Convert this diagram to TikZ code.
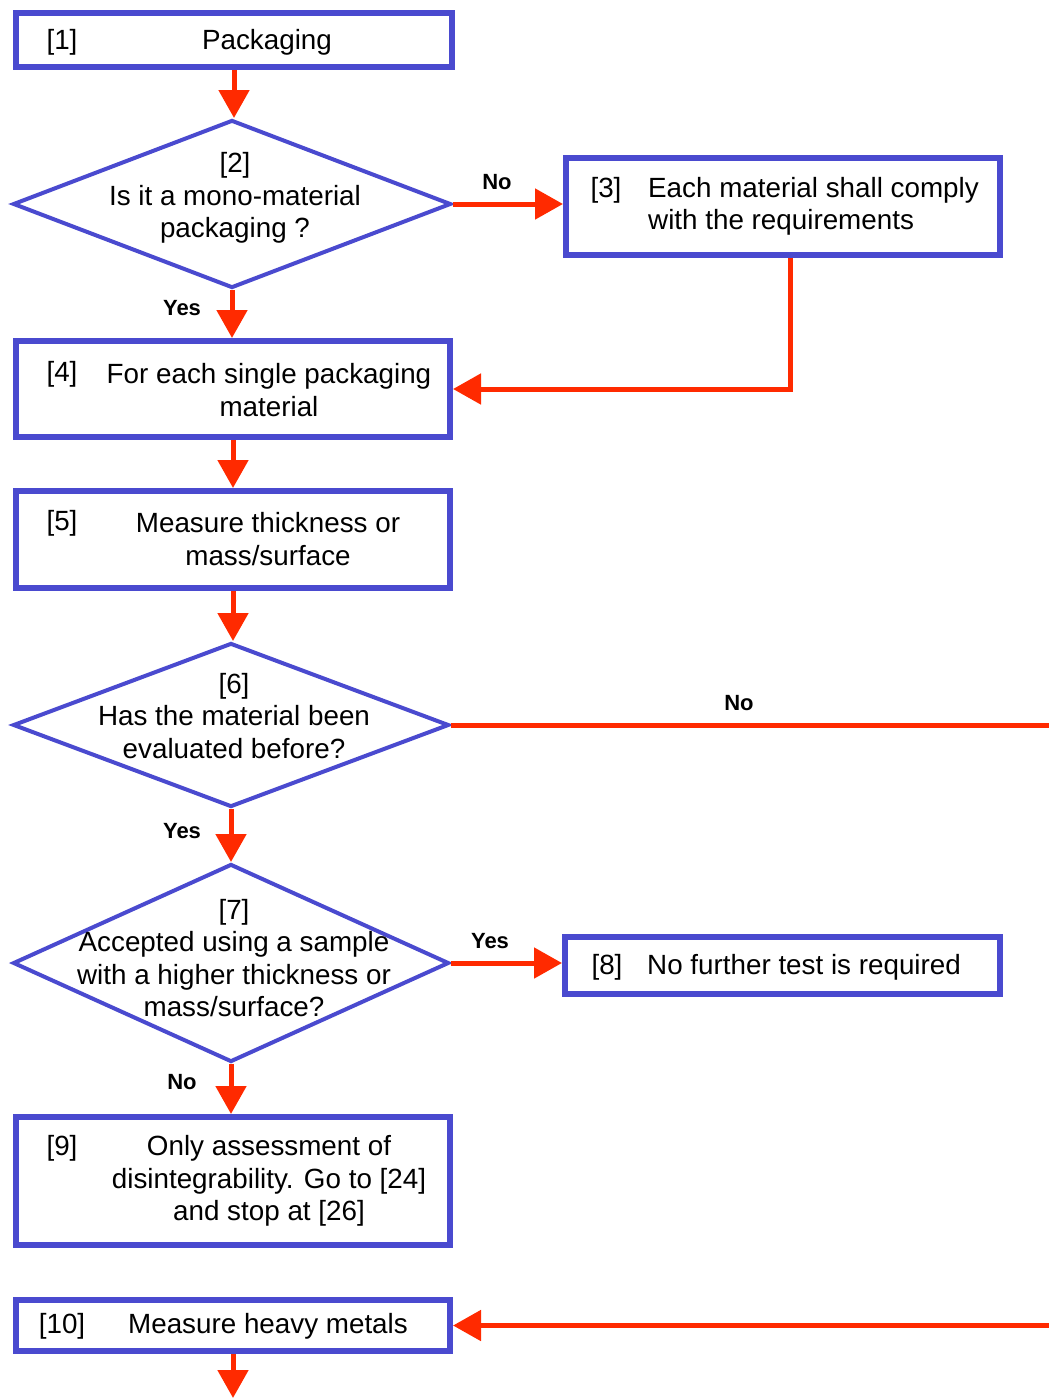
\documentclass[tikz,border=0pt]{standalone}
\usepackage{fontspec}
\setmainfont{Liberation Sans}
\usetikzlibrary{shapes.geometric,arrows.meta,calc}
\definecolor{fblue}{RGB}{74,74,207}
\definecolor{fred}{RGB}{255,42,0}
\begin{document}
\begin{tikzpicture}[x=1pt,y=-1pt,
  box/.style={draw=fblue,line width=6pt,rectangle,inner sep=0pt,fill=white},
  dia/.style={draw=fblue,line width=4pt,diamond,inner sep=0pt,fill=white},
  txt/.style={font=\fontsize{27.8}{32.5}\selectfont,inner sep=0pt,align=center},
  ltxt/.style={font=\fontsize{27.8}{32.5}\selectfont,inner sep=0pt,align=left},
  lab/.style={font=\fontsize{22}{26}\selectfont\bfseries,inner sep=0pt},
  arr/.style={draw=fred,line width=5pt,-{Triangle[width=30pt,length=28pt]}},
  ln/.style={draw=fred,line width=5pt}]
\useasboundingbox (0,0) rectangle (1049,1398);
% boxes
\node[box,minimum width=436pt,minimum height=54pt] (b1) at (234,40) {};
\node[dia,minimum width=438pt,minimum height=168pt] (d2) at (232,204) {};
\node[box,minimum width=434pt,minimum height=97pt] (b3) at (783,206.5) {};
\node[box,minimum width=434pt,minimum height=96pt] (b4) at (233,389) {};
\node[box,minimum width=434pt,minimum height=97pt] (b5) at (233,539.5) {};
\node[dia,minimum width=436pt,minimum height=164pt] (d6) at (231,725) {};
\node[dia,minimum width=436pt,minimum height=198pt] (d7) at (231,963) {};
\node[box,minimum width=435pt,minimum height=57pt] (b8) at (782.5,965.5) {};
\node[box,minimum width=434pt,minimum height=128pt] (b9) at (233,1181) {};
\node[box,minimum width=434pt,minimum height=51pt] (b10) at (233,1325.5) {};
% texts
\node[txt] (t1n) at (62,42) {[1]};
\node[txt] (t1) at (267,42) {Packaging};
\node[txt] (t2) at (235,198) {[2]\\Is it a mono-material\\packaging ?};
\node[txt] (t3n) at (606,190) {[3]};
\node[ltxt,anchor=west] (t3) at (648,206.5) {Each material shall comply\\with the requirements};
\node[txt] (t4n) at (62,374) {[4]};
\node[txt] (t4) at (269,390) {For each single packaging\\material};
\node[txt] (t5n) at (62,523) {[5]};
\node[txt] (t5) at (268,539) {Measure thickness or\\mass/surface};
\node[txt] (t6) at (234,716) {[6]\\Has the material been\\evaluated before?};
\node[txt] (t7) at (234,958) {[7]\\Accepted using a sample\\with a higher thickness or\\mass/surface?};
\node[txt] (t8n) at (607,967) {[8]};
\node[ltxt,anchor=west] (t8) at (647,967) {No further test is required};
\node[txt] (t9n) at (62,1148) {[9]};
\node[txt] (t9) at (269,1181) {Only assessment of\\disintegrability. Go to [24]\\and stop at [26]};
\node[txt] (t10n) at (62,1326) {[10]};
\node[txt] (t10) at (268,1326) {Measure heavy metals};
% labels
\node[lab] (l1) at (497,182) {No};
\node[lab] (l2) at (182,308) {Yes};
\node[lab] (l3) at (739,703) {No};
\node[lab] (l4) at (182,831) {Yes};
\node[lab] (l5) at (490,941) {Yes};
\node[lab] (l6) at (182,1082) {No};
% free ends
\coordinate (r6) at (1049,725);
\coordinate (r10) at (1049,1325.5);
\coordinate (bot) at (233,1398);
% connectors
\draw[arr] (b1.south) -- (b1.south |- d2.north);
\draw[arr] (d2.east) -- (d2.east -| b3.west);
\draw[arr] ([xshift=7pt]b3.south) |- (b4.east);
\draw[arr] (d2.south) -- (d2.south |- b4.north);
\draw[arr] (b4.south) -- (b5.north);
\draw[arr] (b5.south) -- (b5.south |- d6.north);
\draw[ln] (d6.east) -- (r6);
\draw[arr] (d6.south) -- (d7.north);
\draw[arr] (d7.east) -- (d7.east -| b8.west);
\draw[arr] (d7.south) -- (d7.south |- b9.north);
\draw[arr] (r10) -- (b10.east);
\draw[arr] (b10.south) -- (bot);
\end{tikzpicture}
\end{document}
